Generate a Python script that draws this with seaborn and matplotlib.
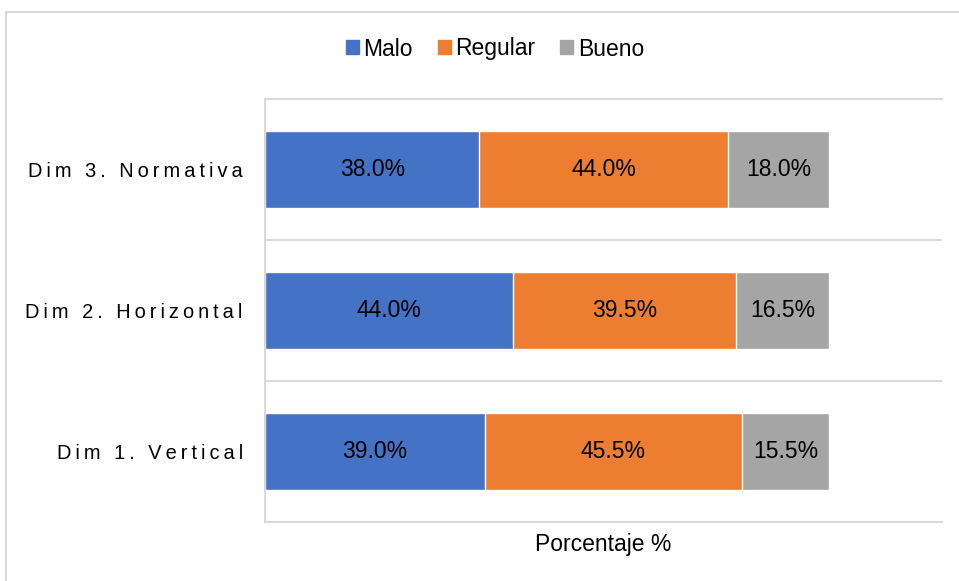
import pandas as pd
import matplotlib.pyplot as plt
import matplotlib.patches as mpatches
import seaborn as sns

dimensiones = ["Dim 3. Normativa", "Dim 2. Horizontal", "Dim 1. Vertical"]
malo = [38.0, 44.0, 39.0]
regular = [44.0, 39.5, 45.5]
bueno = [18.0, 16.5, 15.5]
niveles = ["Malo", "Regular", "Bueno"]
colores = ["#4472C4", "#ED7D31", "#A5A5A5"]

sns.set_theme(style="white")
plt.rcParams['font.family'] = ['Liberation Sans', 'DejaVu Sans']

df = pd.DataFrame({"dim": dimensiones, "Malo": malo, "Regular": regular, "Bueno": bueno})
acum = df[niveles].cumsum(axis=1)

fig = plt.figure(figsize=(9.59, 5.81), dpi=100)
ax = fig.add_axes([265/959, 1 - 522/581, (942 - 265)/959, (522 - 99)/581])

# barras apiladas: se dibuja el acumulado de atras hacia adelante
for nivel, color in reversed(list(zip(niveles, colores))):
    sns.barplot(x=acum[nivel], y=df["dim"], color=color, width=0.553,
                saturation=1, errorbar=None, ax=ax, zorder=2)

for i in range(len(dimensiones)):
    izq = 0
    for nivel in niveles:
        v = df.loc[i, nivel]
        ax.text(izq + v/2, i, f"{v:.1f}%", ha='center', va='center',
                fontsize=16.5, color='black', zorder=3)
        izq += v

ax.set_xlim(0, 120)
ax.set_ylim(2.5, -0.5)
ax.set_xticks([])
ax.set_xlabel("Porcentaje %", fontsize=16.5, labelpad=8, color='black')
ax.set_ylabel("")


def espaciado(s):
    return "\u2009".join(s)


ax.set_yticks(range(len(dimensiones)))
ax.set_yticklabels([espaciado(d) for d in dimensiones], fontsize=14.4, color='black')
ax.tick_params(axis='y', length=0, pad=16)
ax.set_yticks([0.5, 1.5], minor=True)
ax.tick_params(which='minor', length=0)
ax.grid(which='minor', axis='y', color='#d9d9d9', lw=1.5)
ax.set_axisbelow(True)

for lado in ["top", "bottom", "left"]:
    ax.spines[lado].set_color('#d9d9d9')
    ax.spines[lado].set_linewidth(1.5)
ax.spines["right"].set_visible(False)

handles = [mpatches.Patch(color=c, label=n) for n, c in zip(niveles, colores)]
fig.legend(handles=handles, loc='center', bbox_to_anchor=(495/959, 1 - 49/581),
           ncol=3, frameon=False, fontsize=16.5, handlelength=0.55, handleheight=0.55,
           handletextpad=0.2, columnspacing=1.1, labelcolor='black')

fig.patches.append(mpatches.Rectangle((6/959, -0.1), 1.1, 1 - 12/581 + 0.1,
                                      transform=fig.transFigure, fill=False,
                                      edgecolor='#d9d9d9', lw=1.5))

fig.savefig("out.png", dpi=100)
